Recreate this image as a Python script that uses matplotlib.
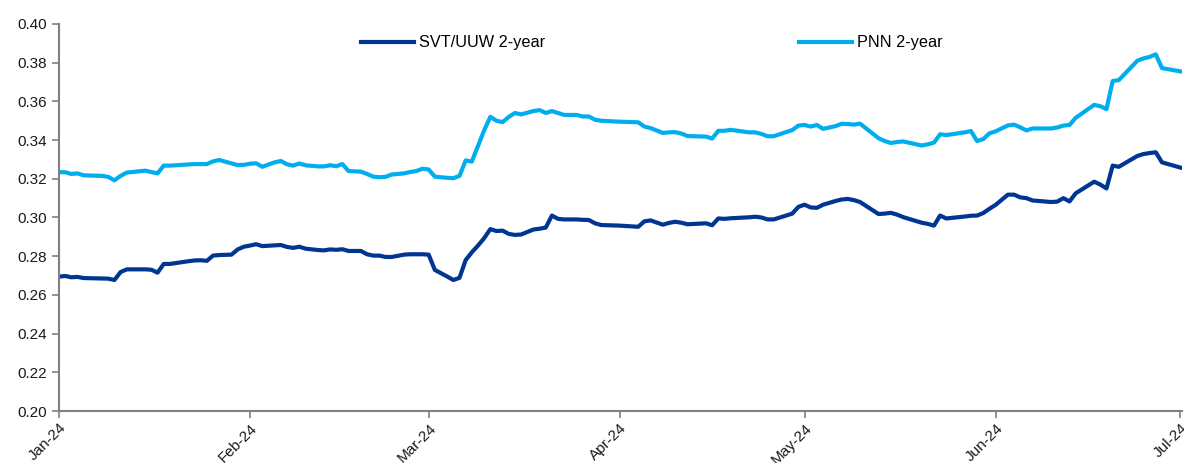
import numpy as np
import pandas as pd
import matplotlib
matplotlib.use('Agg')
import matplotlib.pyplot as plt
import matplotlib.dates as mdates

plt.rcParams['font.family'] = ['Liberation Sans', 'DejaVu Sans']

DATES = [
    '2024-01-01', '2024-01-02', '2024-01-03', '2024-01-04', '2024-01-05',
    '2024-01-08', '2024-01-09', '2024-01-10', '2024-01-11', '2024-01-12',
    '2024-01-15', '2024-01-16', '2024-01-17', '2024-01-18', '2024-01-19',
    '2024-01-22', '2024-01-23', '2024-01-24', '2024-01-25', '2024-01-26',
    '2024-01-27', '2024-01-29', '2024-01-30', '2024-01-31',
    '2024-02-01', '2024-02-02', '2024-02-03', '2024-02-05', '2024-02-06',
    '2024-02-07', '2024-02-08', '2024-02-09', '2024-02-10', '2024-02-12',
    '2024-02-13', '2024-02-14', '2024-02-15', '2024-02-16', '2024-02-17',
    '2024-02-19', '2024-02-20', '2024-02-21', '2024-02-22', '2024-02-23',
    '2024-02-24', '2024-02-26', '2024-02-27', '2024-02-28', '2024-02-29',
    '2024-03-01', '2024-03-02', '2024-03-04', '2024-03-05', '2024-03-06',
    '2024-03-07', '2024-03-08', '2024-03-09', '2024-03-10', '2024-03-11',
    '2024-03-12', '2024-03-13', '2024-03-14', '2024-03-15', '2024-03-16',
    '2024-03-18', '2024-03-19', '2024-03-20', '2024-03-21', '2024-03-22',
    '2024-03-23', '2024-03-25', '2024-03-26', '2024-03-27', '2024-03-28',
    '2024-03-29',
    '2024-04-01', '2024-04-04', '2024-04-05', '2024-04-06', '2024-04-08',
    '2024-04-09', '2024-04-10', '2024-04-11', '2024-04-12', '2024-04-15',
    '2024-04-16', '2024-04-17', '2024-04-18', '2024-04-19', '2024-04-22',
    '2024-04-23', '2024-04-24', '2024-04-25', '2024-04-26', '2024-04-29',
    '2024-04-30',
    '2024-05-01', '2024-05-02', '2024-05-03', '2024-05-04', '2024-05-06',
    '2024-05-07', '2024-05-08', '2024-05-09', '2024-05-10', '2024-05-13',
    '2024-05-14', '2024-05-15', '2024-05-16', '2024-05-17', '2024-05-20',
    '2024-05-21', '2024-05-22', '2024-05-23', '2024-05-24', '2024-05-27',
    '2024-05-28', '2024-05-29', '2024-05-30', '2024-05-31',
    '2024-06-01', '2024-06-03', '2024-06-04', '2024-06-05', '2024-06-06',
    '2024-06-07', '2024-06-10', '2024-06-11', '2024-06-12', '2024-06-13',
    '2024-06-14', '2024-06-17', '2024-06-18', '2024-06-19', '2024-06-20',
    '2024-06-21', '2024-06-24', '2024-06-25', '2024-06-26', '2024-06-27',
    '2024-06-28', '2024-07-01',
]

SVT_UUW = [
    0.2694, 0.2698, 0.2691, 0.2693, 0.2687,
    0.2685, 0.2684, 0.2677, 0.2718, 0.2732,
    0.2732, 0.2730, 0.2715, 0.2760, 0.2760,
    0.2774, 0.2778, 0.2779, 0.2776, 0.2803,
    0.2806, 0.2808, 0.2835, 0.2849,
    0.2855, 0.2862, 0.2852, 0.2856, 0.2858,
    0.2848, 0.2843, 0.2849, 0.2839, 0.2832,
    0.2830, 0.2835, 0.2833, 0.2836, 0.2827,
    0.2827, 0.2810, 0.2803, 0.2803, 0.2796,
    0.2796, 0.2808, 0.2810, 0.2810, 0.2810,
    0.2808, 0.2729, 0.2695, 0.2677, 0.2688,
    0.2780, 0.2820, 0.2855, 0.2893, 0.2940,
    0.2930, 0.2932, 0.2915, 0.2910, 0.2912,
    0.2938, 0.2942, 0.2948, 0.3010, 0.2993,
    0.2990, 0.2990, 0.2988, 0.2987, 0.2970,
    0.2961,
    0.2958, 0.2952, 0.2980, 0.2985, 0.2963,
    0.2972, 0.2978, 0.2973, 0.2965, 0.2970,
    0.2960, 0.2995, 0.2993, 0.2996, 0.3001,
    0.3004, 0.3000, 0.2990, 0.2990, 0.3020,
    0.3055,
    0.3066, 0.3052, 0.3050, 0.3066, 0.3085,
    0.3093, 0.3096, 0.3090, 0.3080, 0.3018,
    0.3020, 0.3024, 0.3015, 0.3002, 0.2973,
    0.2967, 0.2958, 0.3010, 0.2995, 0.3005,
    0.3009, 0.3010, 0.3023, 0.3045,
    0.3065, 0.3118, 0.3118, 0.3104, 0.3100,
    0.3088, 0.3080, 0.3082, 0.3100, 0.3083,
    0.3125, 0.3185, 0.3170, 0.3150, 0.3268,
    0.3262, 0.3318, 0.3328, 0.3333, 0.3337,
    0.3285, 0.3258,
]

PNN = [
    0.3234, 0.3234, 0.3225, 0.3228, 0.3218,
    0.3215, 0.3210, 0.3192, 0.3215, 0.3232,
    0.3242, 0.3235, 0.3228, 0.3268, 0.3268,
    0.3274, 0.3276, 0.3276, 0.3276, 0.3290,
    0.3297, 0.3280, 0.3271, 0.3272,
    0.3278, 0.3280, 0.3262, 0.3285, 0.3292,
    0.3275, 0.3268, 0.3279, 0.3270, 0.3264,
    0.3264, 0.3270, 0.3265, 0.3276, 0.3240,
    0.3237, 0.3225, 0.3211, 0.3208, 0.3210,
    0.3222, 0.3228, 0.3235, 0.3240, 0.3252,
    0.3248, 0.3211, 0.3205, 0.3203, 0.3215,
    0.3295, 0.3289, 0.3370, 0.3450, 0.3520,
    0.3500, 0.3493, 0.3520, 0.3540, 0.3533,
    0.3550, 0.3555, 0.3540, 0.3550, 0.3540,
    0.3530, 0.3530, 0.3522, 0.3522, 0.3505,
    0.3500,
    0.3495, 0.3492, 0.3470, 0.3462, 0.3437,
    0.3440, 0.3441, 0.3434, 0.3421, 0.3418,
    0.3408, 0.3448, 0.3448, 0.3453, 0.3440,
    0.3440, 0.3432, 0.3420, 0.3420, 0.3452,
    0.3475,
    0.3478, 0.3470, 0.3478, 0.3458, 0.3472,
    0.3484, 0.3483, 0.3480, 0.3485, 0.3410,
    0.3395, 0.3385, 0.3390, 0.3393, 0.3372,
    0.3378, 0.3387, 0.3430, 0.3426, 0.3440,
    0.3447, 0.3395, 0.3405, 0.3435,
    0.3445, 0.3476, 0.3480, 0.3466, 0.3450,
    0.3460, 0.3460, 0.3465, 0.3475, 0.3478,
    0.3515, 0.3582, 0.3575, 0.3560, 0.3705,
    0.3710, 0.3810, 0.3822, 0.3830, 0.3843,
    0.3772, 0.3755,
]

SERIES = [
    ('SVT/UUW 2-year', SVT_UUW, '#003592'),
    ('PNN 2-year', PNN, '#00AEEF'),
]

Y_TICKS = [0.20, 0.22, 0.24, 0.26, 0.28, 0.30, 0.32, 0.34, 0.36, 0.38, 0.40]
AXIS_GREY = '#808080'


def main():
    dates = pd.to_datetime(DATES)

    fig = plt.figure(figsize=(11.84, 4.63), dpi=100)
    ax = fig.add_axes([0.0498, 0.1123, 0.9485, 0.8359])

    for label, vals, color in SERIES:
        ax.plot(dates, vals, color=color, linewidth=3.0, label=label,
                solid_joinstyle='round')

    ax.set_xlim(pd.Timestamp('2024-01-01'), pd.Timestamp('2024-07-01 06:00'))
    ax.set_ylim(0.20, 0.40)
    ax.set_yticks(Y_TICKS)
    ax.yaxis.set_major_formatter(plt.FormatStrFormatter('%.2f'))
    ax.xaxis.set_major_locator(mdates.MonthLocator())
    ax.xaxis.set_major_formatter(mdates.DateFormatter('%b-%y'))

    for side in ('top', 'right'):
        ax.spines[side].set_visible(False)
    for side in ('left', 'bottom'):
        ax.spines[side].set_color(AXIS_GREY)
        ax.spines[side].set_linewidth(1.5)

    ax.tick_params(axis='both', colors=AXIS_GREY, direction='out', length=5,
                   width=1.2, labelcolor='#1a1a1a', labelsize=11)
    ax.tick_params(axis='x', pad=2)
    for lbl in ax.get_xticklabels():
        lbl.set_rotation(45)
        lbl.set_ha('right')
        lbl.set_rotation_mode('anchor')

    # legend spread across the top, two entries far apart
    ax.legend(loc='upper left', bbox_to_anchor=(0.2585, 1.0), ncol=2,
              frameon=False, fontsize=11.7, handlelength=3.3,
              handletextpad=0.3, columnspacing=15.6, borderaxespad=0.3)

    fig.savefig('out.png', dpi=100)
    plt.close(fig)


if __name__ == '__main__':
    main()
